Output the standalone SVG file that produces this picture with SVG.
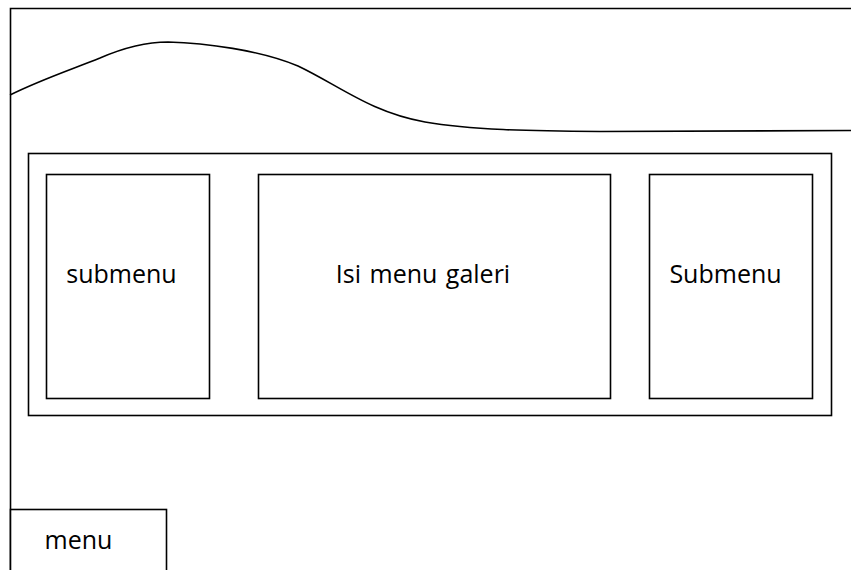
<svg xmlns="http://www.w3.org/2000/svg" width="851" height="570" viewBox="0 0 851 570">
<style>
.b{fill:#fff;stroke:#000;stroke-width:1.6}
.t{font-family:"Open Sans","Liberation Sans",sans-serif;font-size:25px;fill:#000}
</style>
<rect width="851" height="570" fill="#fff"/>
<g id="frame"><path d="M10.5,575 V8.5 H860" fill="none" stroke="#000" stroke-width="1.6"/></g>
<g id="header"><path d="M10,95 C40,80 70,70 100,58 C130,45 150,42 168,42 C205,43 260,50 298,66 C340,86 370,112 425,122 C470,130 530,131 600,131.5 L851,130.5" fill="none" stroke="#000" stroke-width="1.6"/></g>
<g id="content"><rect class="b" x="28.5" y="153.5" width="803" height="262"/></g>
<g id="submenu-left"><rect class="b" x="46.5" y="174.5" width="163" height="224"/><text class="t" x="121.5" y="283" text-anchor="middle">submenu</text></g>
<g id="gallery"><rect class="b" x="258.5" y="174.5" width="352" height="224"/><text class="t" x="423" y="283" text-anchor="middle" word-spacing="2">Isi menu galeri</text></g>
<g id="submenu-right"><rect class="b" x="649.5" y="174.5" width="163" height="224"/><text class="t" x="725.5" y="283" text-anchor="middle">Submenu</text></g>
<g id="menu"><rect class="b" x="10.5" y="509.5" width="156" height="70"/><text class="t" x="78.5" y="549" text-anchor="middle">menu</text></g>
<g id="connectors"/>
</svg>
